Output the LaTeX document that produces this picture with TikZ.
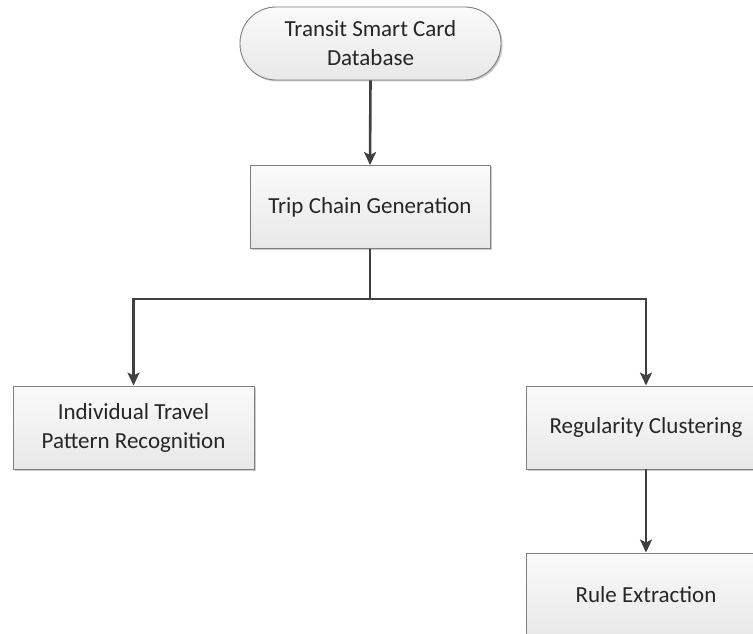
\documentclass[tikz,border=0pt]{standalone}
\usepackage{fontspec}
\setmainfont{Carlito}
\usetikzlibrary{arrows.meta,shadows}
\definecolor{linec}{HTML}{404040}
\definecolor{borderc}{HTML}{7F7F7F}
\tikzset{
  x=1pt, y=-1pt,
  boxbase/.style={draw=borderc, line width=0.9pt, top color=white!98!black, bottom color=white!91!black,
     drop shadow={shadow xshift=1.5pt, shadow yshift=-1.5pt, fill=black!35, opacity=0.6},
     font=\fontsize{23}{29}\selectfont, text=black!85, align=center, inner sep=0pt},
  procbox/.style={boxbase, rectangle, minimum width=240pt, minimum height=83pt},
  termbox/.style={boxbase, rectangle, rounded corners=36pt, minimum width=261pt, minimum height=73pt},
  conn/.style={draw=linec, line width=2.6pt},
  arr/.style={conn, -{Stealth[length=13pt, width=12pt, inset=3pt]}}
}
\begin{document}
\begin{tikzpicture}
\useasboundingbox (0,0) rectangle (753,634);
\node[termbox] (db) at (370.5,43.5) {Transit Smart Card\\Database};
\node[procbox] (tc) at (370,207) {Trip Chain Generation};
\node[procbox, minimum width=241pt] (itp) at (133.5,427.5) {Individual Travel\\Pattern Recognition};
\node[procbox] (rc) at (646,427.5) {Regularity Clustering};
\node[procbox] (re) at (646,594.5) {Rule Extraction};
\coordinate (split) at (370,299);
\draw[arr] (db.south) -- (tc.north);
\draw[conn] (tc.south) -- (split);
\draw[arr] (split) -| (itp.north);
\draw[arr] (split) -| (rc.north);
\draw[arr] (rc.south) -- (re.north);
\end{tikzpicture}
\end{document}
